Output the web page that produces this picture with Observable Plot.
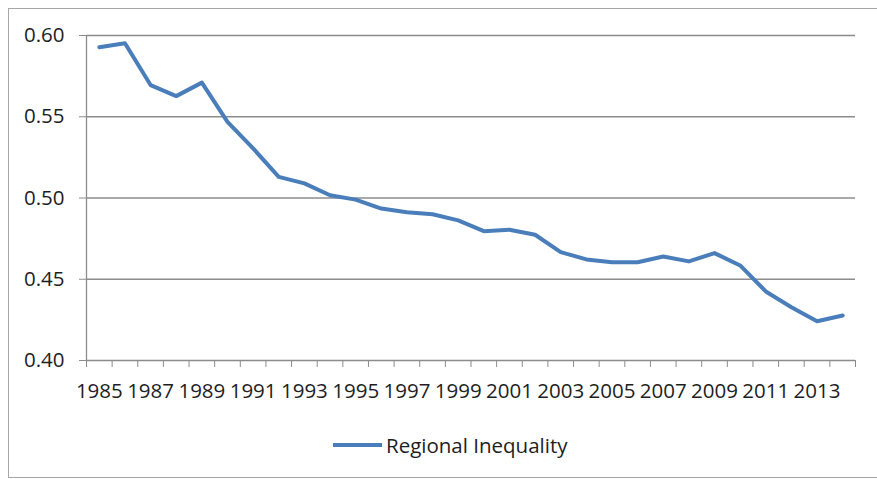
<!DOCTYPE html>
<html><head><meta charset="utf-8">
<script src="https://cdn.jsdelivr.net/npm/d3@7"></script>
<script src="https://cdn.jsdelivr.net/npm/@observablehq/plot@0.6"></script>
<style>
body{margin:0;background:#fff;}
#wrap{position:relative;width:877px;height:479px;overflow:hidden;font-family:"Open Sans",sans-serif;}
#frame{position:absolute;left:8px;top:8px;width:900px;height:470px;border:1px solid #a6a6a6;box-sizing:border-box;}
#chart{position:absolute;left:0;top:0;}
#legend{position:absolute;left:333px;top:431px;display:flex;align-items:center;font-size:20.5px;color:#1e1e1e;white-space:nowrap;}
#legend .sw{display:inline-block;width:49px;height:4px;background:#4a7ebb;margin-right:4px;}
</style></head><body>
<div id="wrap"><div id="frame"></div><div id="chart"></div><div id="legend"><span class="sw"></span><span>Regional Inequality</span></div></div>
<script>
const years = [1985,1986,1987,1988,1989,1990,1991,1992,1993,1994,1995,1996,1997,1998,1999,2000,2001,2002,2003,2004,2005,2006,2007,2008,2009,2010,2011,2012,2013,2014];
const inequality = [0.5928,0.5952,0.5695,0.5627,0.5710,0.5468,0.5305,0.5130,0.5090,0.5017,0.4990,0.4935,0.4912,0.4900,0.4862,0.4796,0.4805,0.4774,0.4667,0.4622,0.4605,0.4605,0.4640,0.4610,0.4661,0.4585,0.4425,0.4328,0.4242,0.4277];
const yTicks = [0.40,0.45,0.50,0.55,0.60];
const xTickLabels = [1985,1987,1989,1991,1993,1995,1997,1999,2001,2003,2005,2007,2009,2011,2013];
const seriesName = "Regional Inequality";

const data = years.map((year, i) => ({year, value: inequality[i]}));
const boundaries = [...years.map(y => y - 0.5), years[years.length - 1] + 0.5];
const axisColor = "#8c8c8c";
const textColor = "#1e1e1e";

const chart = Plot.plot({
  width: 877,
  height: 420,
  marginLeft: 86,
  marginRight: 22,
  marginTop: 35,
  marginBottom: 60,
  style: {fontFamily: '"Open Sans", sans-serif', fontSize: "20.5px", color: textColor, background: "transparent"},
  x: {domain: [boundaries[0], boundaries[boundaries.length - 1]]},
  y: {domain: [yTicks[0], yTicks[yTicks.length - 1]]},
  marks: [
    Plot.ruleY(yTicks, {stroke: axisColor, strokeWidth: 1.3}),
    Plot.ruleX([boundaries[0]], {stroke: axisColor, strokeWidth: 1.3}),
    Plot.axisY({ticks: yTicks, tickSize: 7, tickPadding: 15, tickFormat: d3.format(".2f"), stroke: axisColor, fill: textColor, label: null}),
    Plot.axisX({ticks: boundaries, tickSize: 7, tickFormat: () => "", stroke: axisColor, label: null}),
    Plot.axisX({ticks: xTickLabels, tickSize: 0, tickPadding: 23, tickFormat: d => String(d), fill: textColor, label: null}),
    Plot.line(data, {x: "year", y: "value", stroke: "#4a7ebb", strokeWidth: 4, strokeLinejoin: "round"})
  ]
});
document.getElementById("chart").appendChild(chart);
document.querySelector("#legend span:last-child").textContent = seriesName;
</script>
</body></html>
